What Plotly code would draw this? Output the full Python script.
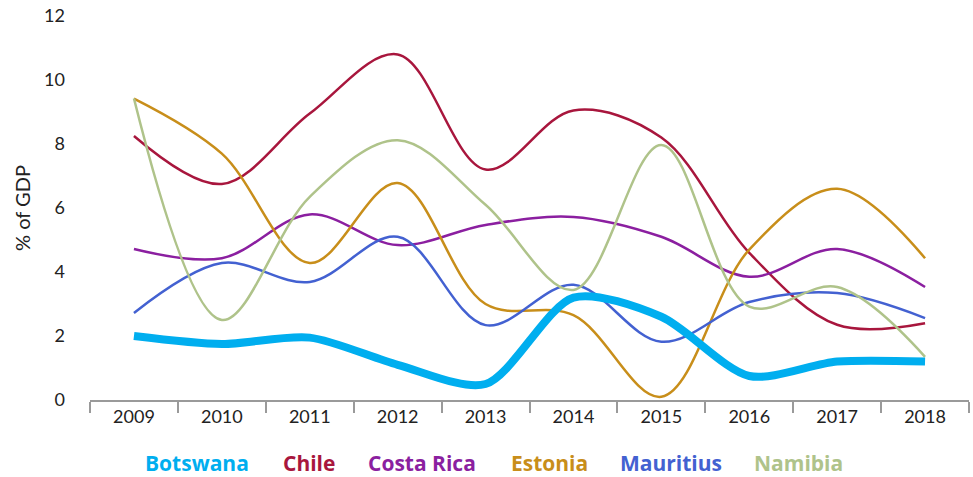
import plotly.graph_objects as go

years = ["2009", "2010", "2011", "2012", "2013", "2014", "2015", "2016", "2017", "2018"]
botswana = [2.0, 1.75, 1.95, 1.1, 0.5, 3.2, 2.6, 0.75, 1.2, 1.2]
chile = [8.25, 6.75, 8.95, 10.8, 7.2, 9.05, 8.2, 4.6, 2.35, 2.4]
costa_rica = [4.72, 4.43, 5.8, 4.84, 5.47, 5.72, 5.1, 3.85, 4.72, 3.53]
estonia = [9.42, 7.7, 4.28, 6.78, 3.0, 2.65, 0.1, 4.7, 6.6, 4.43]
mauritius = [2.72, 4.28, 3.69, 5.1, 2.34, 3.6, 1.82, 3.06, 3.34, 2.56]
namibia = [9.42, 2.5, 6.35, 8.12, 6.1, 3.44, 7.97, 2.92, 3.53, 1.35]

names = ["Botswana", "Chile", "Costa Rica", "Estonia", "Mauritius", "Namibia"]
series = [botswana, chile, costa_rica, estonia, mauritius, namibia]
colors = ["#00AEEF", "#A8163D", "#8B1FA0", "#C88E1A", "#4361D1", "#AFC38A"]
widths = [8, 2.5, 2.5, 2.5, 2.5, 2.5]
smooth = [0.8, 1.0, 1.0, 1.0, 1.0, 1.0]
legend_x = [197, 309, 422, 549, 671, 798]  # pixel centres of legend labels

fig = go.Figure()
# draw thin lines first, Botswana last (on top)
order = [1, 2, 3, 4, 5, 0]
for i in order:
    fig.add_trace(go.Scatter(
        x=years, y=series[i], name=names[i], mode="lines",
        line=dict(color=colors[i], width=widths[i], shape="spline", smoothing=smooth[i]),
        showlegend=False,
    ))

W, H = 973, 477
ml, mr, mt, mb = 90, 4, 16, 77
pw = W - ml - mr
ph = H - mt - mb
for name, col, px in zip(names, colors, legend_x):
    fig.add_annotation(
        x=(px - ml) / pw, y=-(463 - (H - mb)) / ph, xref="paper", yref="paper",
        text=f"<b>{name}</b>", showarrow=False,
        font=dict(family="Open Sans", size=21, color=col),
        xanchor="center", yanchor="middle",
    )

fig.update_layout(
    width=W, height=H,
    margin=dict(l=ml, r=mr, t=mt, b=mb),
    paper_bgcolor="white", plot_bgcolor="white",
    font=dict(family="Lato", size=16, color="#222"),
)
fig.update_xaxes(
    type="category", showgrid=False, showline=True, linecolor="#9a9a9a", linewidth=1.5,
    ticks="outside", tickson="boundaries", ticklen=11, tickcolor="#9a9a9a", tickwidth=1.5,
    tickfont=dict(family="Lato", size=18, color="#222"), range=[-0.5, 9.5],
)
fig.update_yaxes(
    range=[0, 12], dtick=2, showgrid=False, zeroline=False, showline=False,
    tickfont=dict(family="Lato", size=18, color="#222"), ticklabelstandoff=24,
    title=dict(text="% of GDP", font=dict(family="Lato", size=20, color="#222"), standoff=8),
)

fig.write_html("out.html")
